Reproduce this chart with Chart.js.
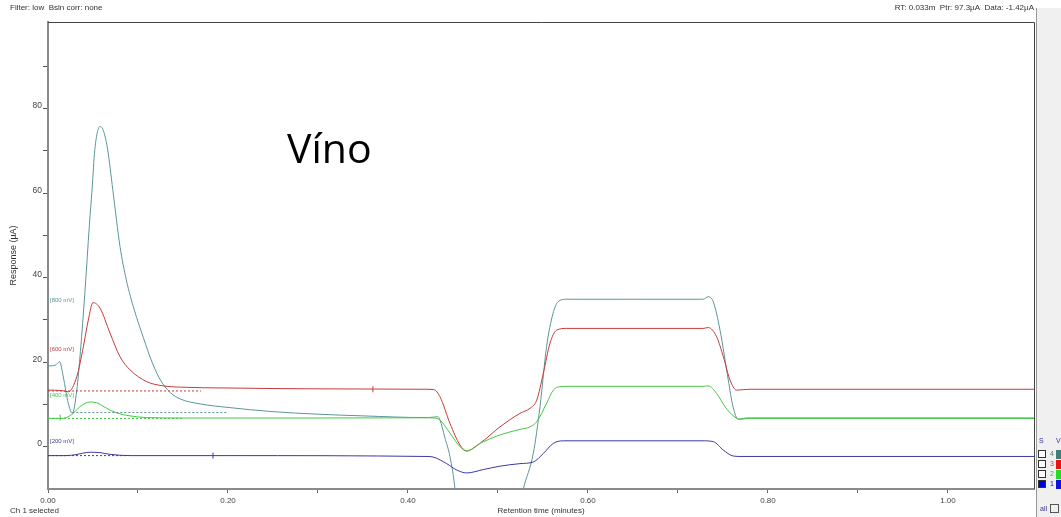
<!DOCTYPE html>
<html>
<head>
<meta charset="utf-8">
<script src="https://cdn.jsdelivr.net/npm/chart.js@4/dist/chart.umd.min.js"></script>
<style>
  html, body { margin: 0; padding: 0; background: #fff; }
  #wrap { position: relative; width: 1061px; height: 517px; }
</style>
</head>
<body>
<div id="wrap"><canvas id="chart"></canvas></div>
<script>
// Axis ticks (retention time in minutes, response in µA)
const xMajorTicks = [0, 0.2, 0.4, 0.6, 0.8, 1.0];
const xMinorTicks = [0.1, 0.3, 0.5, 0.7, 0.9];
const yMajorTicks = [0, 20, 40, 60, 80];
const yMinorTicks = [10, 30, 50, 70, 90];

// Channel names and potentials
const channelNames = ['4', '3', '2', '1'];
const channelLabels = ['[800 mV]', '[600 mV]', '[400 mV]', '[200 mV]'];
const channelLabelLevels = [34.7, 23.1, 12.2, 1.35];

// Channel 4 – 800 mV
const time800 = [0, 0.008, 0.013, 0.017, 0.0225, 0.027, 0.032, 0.036, 0.041, 0.046, 0.049, 0.052, 0.058, 0.062, 0.0663, 0.072, 0.080, 0.087, 0.096, 0.106, 0.116, 0.126, 0.136, 0.147, 0.170, 0.200, 0.250, 0.300, 0.350, 0.420, 0.428, 0.433, 0.4356, 0.4408, 0.4467, 0.4522, 0.458, 0.470, 0.490, 0.510, 0.520, 0.5281, 0.5392, 0.5467, 0.554, 0.5611, 0.5667, 0.5763, 0.650, 0.7278, 0.7337, 0.7392, 0.7467, 0.7559, 0.7611, 0.767, 0.775, 0.850, 1.000, 1.096];
const resp800 = [19.1, 19.3, 20.1, 16.5, 10.3, 7.9, 13.4, 22.5, 36.5, 52.5, 61, 70.3, 75.8, 74.5, 70.3, 60.8, 47.4, 39.5, 32.3, 25.8, 19.8, 15.4, 12.8, 11.3, 10.1, 9.3, 8.3, 7.7, 7.3, 6.9, 7.0, 7.1, 6.3, 2.3, -2.4, -10, -25, -40, -42, -30, -18, -10, -1.6, 9.5, 23.7, 31.5, 34.3, 34.9, 34.9, 34.9, 35.5, 34.3, 27.6, 15.8, 9.5, 6.5, 6.8, 6.8, 6.8, 6.8];

// Channel 3 – 600 mV
const time600 = [0, 0.015, 0.0226, 0.032, 0.0393, 0.0448, 0.050, 0.0578, 0.0689, 0.080, 0.0911, 0.1097, 0.128, 0.147, 0.200, 0.300, 0.420, 0.4289, 0.4356, 0.4467, 0.4578, 0.4652, 0.480, 0.5022, 0.5244, 0.5356, 0.5430, 0.5504, 0.5578, 0.5652, 0.5763, 0.650, 0.7278, 0.7337, 0.7430, 0.7504, 0.7578, 0.7652, 0.7726, 0.780, 0.900, 1.096];
const resp600 = [13.4, 13.3, 13.0, 16.6, 23.7, 30, 34.1, 32.8, 26.9, 21.3, 18.2, 15.4, 14.4, 14.1, 13.9, 13.7, 13.6, 13.5, 11.8, 5.5, 0.4, -1.0, 0.8, 4.7, 7.9, 9.1, 11.0, 17.4, 24.5, 27.6, 28, 28, 28, 28.2, 26, 21.3, 15.8, 13.4, 13.5, 13.6, 13.6, 13.6];

// Channel 2 – 400 mV
const time400 = [0, 0.015, 0.0204, 0.028, 0.0356, 0.0467, 0.0541, 0.0652, 0.0763, 0.0911, 0.1097, 0.150, 0.300, 0.420, 0.4289, 0.4356, 0.4467, 0.4578, 0.4652, 0.480, 0.5022, 0.5244, 0.5356, 0.5430, 0.5541, 0.5615, 0.5689, 0.580, 0.7278, 0.7337, 0.7430, 0.7522, 0.7615, 0.7689, 0.780, 1.096];
const resp400 = [6.7, 6.7, 6.9, 7.9, 9.5, 10.6, 10.4, 9.1, 8.0, 7.3, 6.9, 6.8, 6.8, 6.85, 6.8, 6.3, 3.2, 0, -1.0, 0.8, 2.8, 4.1, 4.7, 5.9, 10.3, 13.4, 14.2, 14.3, 14.3, 14.4, 12.6, 9.5, 7.3, 6.5, 6.7, 6.7];

// Channel 1 – 200 mV
const time200 = [0, 0.020, 0.030, 0.0467, 0.0578, 0.0689, 0.0911, 0.200, 0.420, 0.4289, 0.4430, 0.4541, 0.4652, 0.4837, 0.5022, 0.5244, 0.5393, 0.5504, 0.5615, 0.5726, 0.7278, 0.7393, 0.7504, 0.7615, 0.770, 1.096];
const resp200 = [-2.1, -2.1, -1.9, -1.3, -1.4, -1.8, -2.1, -2.1, -2.3, -2.5, -4.0, -5.5, -6.2, -5.4, -4.6, -4.0, -3.6, -1.6, 0.8, 1.4, 1.4, 1.2, -0.8, -2.2, -2.3, -2.3];

// Dashed baselines: [start time, end time, level]
const base800 = [0.027, 0.200, 8.1];
const base600 = [0, 0.170, 13.2];
const base400 = [0, 0.150, 6.7];
const base200 = [0, 0.090, -2.1];

// Integration markers on the traces: times and levels
const markTimes = [0.0135, 0.1833, 0.361];
const markLevels = [6.9, -2.1, 13.6];

const colors = { c800: '#5b9597', c600: '#c73a3a', c400: '#45c845', c200: '#3a3aa0' };
const markColors = ['#45c845', '#3a3aa0', '#c73a3a'];
const FONT = "'Liberation Sans', Arial, sans-serif";

const pts = (t, v) => t.map((x, i) => ({ x, y: v[i] }));
const seg = b => [{ x: b[0], y: b[2] }, { x: b[1], y: b[2] }];

function trace(data, color) {
  return { data, borderColor: color, borderWidth: 1, pointRadius: 0, fill: false,
           cubicInterpolationMode: 'monotone' };
}
function baseline(b, color) {
  return { data: seg(b), borderColor: color, borderWidth: 1, borderDash: [2, 2],
           pointRadius: 0, fill: false, tension: 0 };
}

// Frame, header texts, channel labels and the side panel
const decorations = {
  id: 'decorations',
  afterDraw(chart) {
    const { ctx, chartArea: a, scales: { y } } = chart;
    ctx.save();
    // plot frame (top and right edges)
    ctx.strokeStyle = '#444';
    ctx.lineWidth = 1;
    ctx.beginPath();
    ctx.moveTo(a.left, a.top + 0.5); ctx.lineTo(a.right + 0.5, a.top + 0.5);
    ctx.lineTo(a.right + 0.5, a.bottom);
    ctx.stroke();

    // header line
    ctx.fillStyle = '#333';
    ctx.font = '8px ' + FONT;
    ctx.textBaseline = 'middle';
    ctx.textAlign = 'left';
    ctx.fillText('Filter: low  Bsln corr: none', 10, 8);
    ctx.textAlign = 'right';
    ctx.fillText('RT: 0.033m  Ptr: 97.3µA  Data: -1.42µA', 1034, 8);
    ctx.textAlign = 'left';
    ctx.fillText('Ch 1 selected', 10, 511);

    // channel potential labels
    ctx.font = '6px ' + FONT;
    const lc = [colors.c800, colors.c600, colors.c400, colors.c200];
    channelLabels.forEach((t, i) => {
      ctx.fillStyle = lc[i];
      ctx.fillText(t, a.left + 2, y.getPixelForValue(channelLabelLevels[i]));
    });

    // sample title
    ctx.fillStyle = '#000';
    ctx.font = "41px 'Open Sans', sans-serif";
    ctx.textBaseline = 'alphabetic';
    ctx.fillText('Víno', 287, 163);

    // side panel
    ctx.fillStyle = '#f0f0f0';
    ctx.fillRect(1037, 8, 24, 509);
    ctx.strokeStyle = '#999';
    ctx.beginPath();
    ctx.moveTo(1036.5, 8); ctx.lineTo(1036.5, 517);
    ctx.stroke();

    ctx.font = '7px ' + FONT;
    ctx.textBaseline = 'middle';
    ctx.fillStyle = '#33338a';
    ctx.fillText('S', 1039, 441);
    ctx.fillText('V', 1056, 441);
    const rowY = [454, 464, 474, 484];
    const sw = ['#3f7f78', '#ee1111', '#22dd22', '#1111dd'];
    const nc = ['#3f7f78', '#dd3333', '#33bb33', '#1111aa'];
    rowY.forEach((ry, i) => {
      ctx.fillStyle = i === 3 ? '#0000dd' : '#fff';
      ctx.fillRect(1038, ry - 4, 8, 8);
      ctx.strokeStyle = '#333';
      ctx.strokeRect(1038.5, ry - 3.5, 7, 7);
      ctx.fillStyle = nc[i];
      ctx.fillText(channelNames[i], 1050, ry);
      ctx.fillStyle = sw[i];
      ctx.fillRect(1056, ry - 4, 5, 9);
    });
    ctx.fillStyle = '#33338a';
    ctx.fillText('all', 1040, 509);
    ctx.strokeStyle = '#555';
    ctx.strokeRect(1050.5, 504.5, 8, 8);
    ctx.restore();
  }
};

new Chart(document.getElementById('chart'), {
  type: 'line',
  data: {
    datasets: [
      baseline(base800, colors.c800),
      baseline(base600, colors.c600),
      baseline(base400, colors.c400),
      baseline(base200, colors.c200),
      trace(pts(time200, resp200), colors.c200),
      trace(pts(time400, resp400), colors.c400),
      trace(pts(time600, resp600), colors.c600),
      trace(pts(time800, resp800), colors.c800),
      {
        type: 'scatter', data: pts(markTimes, markLevels), showLine: false,
        pointStyle: 'line', rotation: 90, pointRadius: 3, borderWidth: 1,
        borderColor: markColors, backgroundColor: markColors
      }
    ]
  },
  options: {
    responsive: true,
    maintainAspectRatio: false,
    animation: false,
    layout: { padding: { top: 22, right: 27, left: 0, bottom: 0 } },
    plugins: { legend: { display: false }, tooltip: { enabled: false } },
    scales: {
      x: {
        type: 'linear', min: 0, max: 1.0956,
        afterBuildTicks: s => { s.ticks = [...xMajorTicks, ...xMinorTicks].sort((p, q) => p - q).map(v => ({ value: v })); },
        afterFit: s => { s.height = 28; },
        grid: { drawOnChartArea: false, drawTicks: true, tickLength: 4, color: '#666' },
        border: { color: '#8a8a8a', width: 2 },
        ticks: {
          autoSkip: false, maxRotation: 0, padding: 3, color: '#444',
          font: { family: FONT, size: 8 },
          callback: v => xMajorTicks.includes(v) ? v.toFixed(2) : ''
        },
        title: { display: true, text: 'Retention time (minutes)', color: '#333',
                 font: { family: FONT, size: 8 }, padding: { top: 0, bottom: 1 } }
      },
      y: {
        type: 'linear', min: -10, max: 100.5,
        afterBuildTicks: s => { s.ticks = [...yMajorTicks, ...yMinorTicks].sort((p, q) => p - q).map(v => ({ value: v })); },
        afterFit: s => { s.width = 48; },
        grid: { drawOnChartArea: false, drawTicks: true, tickLength: 5, color: '#555' },
        border: { color: '#8a8a8a', width: 2 },
        ticks: {
          autoSkip: false, padding: 1, labelOffset: -3, color: '#444',
          font: { family: FONT, size: 8.5 },
          callback: v => yMajorTicks.includes(v) ? String(v) : ''
        },
        title: { display: true, text: 'Response (µA)', color: '#333',
                 font: { family: FONT, size: 9 }, padding: { top: 8, bottom: 0 } }
      }
    }
  },
  plugins: [decorations]
});
</script>
</body>
</html>
